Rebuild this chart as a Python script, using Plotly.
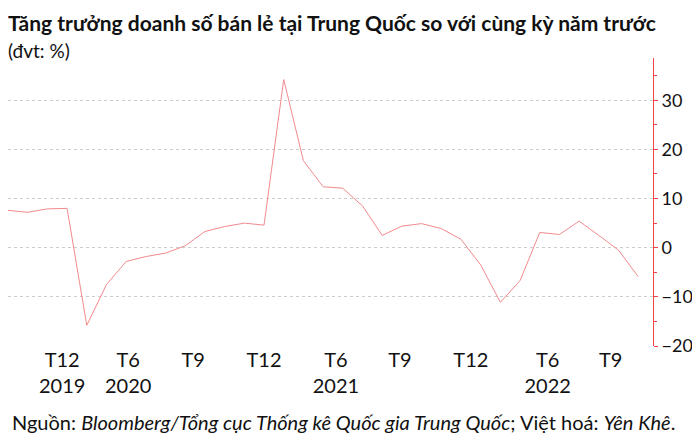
import plotly.graph_objects as go

RED = "#f4434a"

# monthly y/y growth, %
growth = [7.6, 7.2, 7.9, 8.0, -15.8, -7.5, -2.8, -1.8, -1.1, 0.4, 3.3, 4.3, 5.0, 4.6,
          34.2, 17.7, 12.4, 12.1, 8.5, 2.5, 4.4, 4.9, 3.9, 1.7, -3.5, -11.1, -6.7,
          3.1, 2.7, 5.4, 2.5, -0.5, -5.9]
x_idx = list(range(len(growth)))

tick_pos = [2.75, 6.1, 9.4, 13.0, 16.65, 19.9, 23.5, 27.4, 30.6]
tick_text = ["T12<br>2019", "T6<br>2020", "T9", "T12", "T6<br>2021", "T9", "T12", "T6<br>2022", "T9"]

fig = go.Figure()
fig.add_trace(go.Scatter(
    x=x_idx, y=growth, mode="lines",
    line=dict(color="#f28a8e", width=1),
    showlegend=False, hoverinfo="skip",
))

fig.update_layout(
    width=700, height=443,
    margin=dict(l=0, r=55, t=50, b=105),
    plot_bgcolor="white", paper_bgcolor="white",
    font=dict(family="Lato, Roboto, sans-serif", size=20, color="#111"),
    xaxis=dict(
        range=[0, 32.75], tickvals=tick_pos, ticktext=tick_text,
        showgrid=False, zeroline=False, showline=False, ticks="",
        tickfont=dict(size=20), automargin=False,
    ),
    yaxis=dict(
        side="right", range=[-20, 38.6], tickvals=[-20, -10, 0, 10, 20, 30],
        showline=True, linecolor=RED, linewidth=1,
        ticks="outside", tickcolor=RED, ticklen=4,
        minor=dict(tickvals=[-15, -5, 5, 15, 25, 35], ticks="outside", ticklen=3, tickcolor=RED),
        showgrid=True, gridcolor="#cccccc", griddash="dot", gridwidth=1,
        zeroline=False, tickfont=dict(size=18), automargin=False,
    ),
)

fig.add_annotation(x=-0.003, y=1, xref="paper", yref="paper", yshift=36, xanchor="left", yanchor="middle",
                   text="<b>Tăng trưởng doanh số bán lẻ tại Trung Quốc so với cùng kỳ năm trước</b>",
                   showarrow=False, font=dict(size=21))
fig.add_annotation(x=-0.003, y=1, xref="paper", yref="paper", yshift=8, xanchor="left", yanchor="middle",
                   text="(đvt: %)", showarrow=False, font=dict(size=19))
fig.add_annotation(x=0.52, y=0, xref="paper", yref="paper", yshift=-76, xanchor="center", yanchor="middle",
                   text="Nguồn: <i>Bloomberg/Tổng cục Thống kê Quốc gia Trung Quốc</i>; Việt hoá: <i>Yên Khê</i>.",
                   showarrow=False, font=dict(size=20))

fig.write_html("out.html")
